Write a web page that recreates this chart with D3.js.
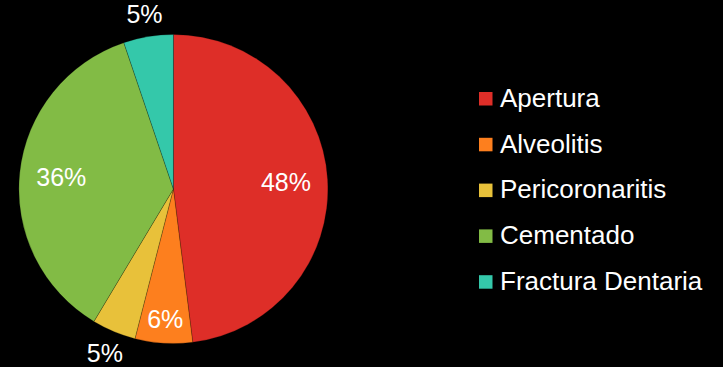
<!DOCTYPE html>
<html><head><meta charset="utf-8">
<script src="https://cdn.jsdelivr.net/npm/d3@7"></script>
<style>html,body{margin:0;padding:0;background:#000;}svg{display:block;}</style>
</head><body>
<svg id="chart" width="723" height="367"></svg>
<script>
const categories = ["Apertura", "Alveolitis", "Pericoronaritis", "Cementado", "Fractura Dentaria"];
const values = [48, 6, 4.6, 36.2, 5.2];
const colors = ["#DE2E28", "#FD7F1E", "#E8C13A", "#82BB45", "#34C8AA"];

const W = 723, H = 367;
const svg = d3.select("#chart");
svg.append("rect").attr("width", W).attr("height", H).attr("fill", "#000");

const cx = 173.4, cy = 189, R = 154.5;
const total = d3.sum(values);
const pie = d3.pie().sort(null).value(d => d)(values);
const arc = d3.arc().innerRadius(0).outerRadius(R);

const g = svg.append("g").attr("transform", `translate(${cx},${cy})`);
g.selectAll("path").data(pie).join("path")
  .attr("d", arc)
  .attr("fill", (d, i) => colors[i])
  .attr("stroke", "rgba(0,0,0,0.35)")
  .attr("stroke-width", 0.6);

const font = "'Liberation Sans', Arial, sans-serif";
function labelRadius(d) {
  const p = d.data / total * 100;
  if (p < 5.5) return R * 1.15;
  if (p < 10) return R * 0.84;
  return R * 0.73;
}
g.selectAll("text.lbl").data(pie).join("text")
  .attr("class", "lbl")
  .attr("transform", d => {
    const a = (d.startAngle + d.endAngle) / 2;
    const r = labelRadius(d);
    return `translate(${Math.sin(a) * r},${-Math.cos(a) * r})`;
  })
  .attr("text-anchor", "middle")
  .attr("dy", "0.36em")
  .attr("fill", "#fff")
  .attr("font-family", font)
  .attr("font-size", 25)
  .text(d => Math.round(d.data / total * 100) + "%");

const legend = svg.append("g").attr("transform", "translate(479,92)");
const row = legend.selectAll("g").data(categories).join("g")
  .attr("transform", (d, i) => `translate(0,${i * 45.8})`);
row.append("rect").attr("width", 13.5).attr("height", 13.5).attr("fill", (d, i) => colors[i]);
row.append("text")
  .attr("x", 21).attr("y", 14.7)
  .attr("fill", "#fff")
  .attr("font-family", font)
  .attr("font-size", 26)
  .text(d => d);
</script>
</body></html>
